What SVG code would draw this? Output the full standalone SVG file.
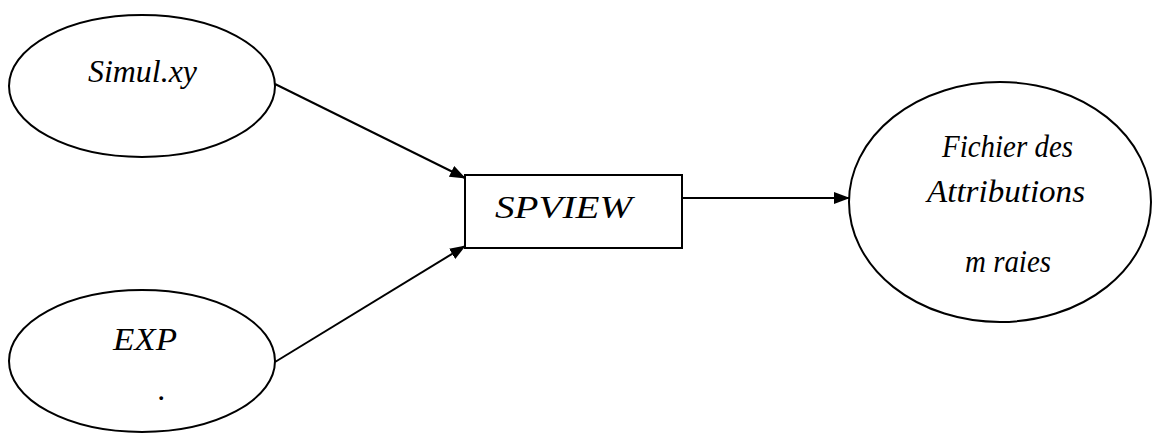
<svg xmlns="http://www.w3.org/2000/svg" width="1153" height="433" viewBox="0 0 1153 433">
<defs>
<marker id="ah" markerWidth="16" markerHeight="12" refX="15" refY="6" orient="auto" markerUnits="userSpaceOnUse">
<path d="M0,0 L16,6 L0,12 Z" fill="#000"/>
</marker>
</defs>
<rect width="1153" height="433" fill="#fff"/>
<g id="connectors" stroke="#000" stroke-width="2" fill="none">
<line x1="275" y1="84" x2="465" y2="178" marker-end="url(#ah)"/>
<line x1="275" y1="362" x2="465" y2="246" marker-end="url(#ah)"/>
<line x1="682" y1="198" x2="849" y2="198" marker-end="url(#ah)"/>
</g>
<g font-family="'Liberation Serif', 'DejaVu Serif', serif" font-style="italic" font-size="32" fill="#000">
<g id="simul">
<ellipse cx="142" cy="86" rx="133" ry="71" fill="#fff" stroke="#000" stroke-width="2"/>
<text x="88" y="82" textLength="109" lengthAdjust="spacingAndGlyphs">Simul.xy</text>
</g>
<g id="exp">
<ellipse cx="142" cy="361" rx="133" ry="71" fill="#fff" stroke="#000" stroke-width="2"/>
<text x="113" y="350" textLength="64" lengthAdjust="spacingAndGlyphs">EXP</text>
<text x="158" y="400">.</text>
</g>
<g id="spview">
<rect x="465" y="175" width="217" height="73" fill="#fff" stroke="#000" stroke-width="2"/>
<text x="495" y="218" textLength="137" lengthAdjust="spacingAndGlyphs">SPVIEW</text>
</g>
<g id="fichier">
<ellipse cx="1000" cy="202" rx="151" ry="120" fill="#fff" stroke="#000" stroke-width="2"/>
<text x="942" y="157" textLength="131" lengthAdjust="spacingAndGlyphs">Fichier des</text>
<text x="927" y="202" textLength="158" lengthAdjust="spacingAndGlyphs">Attributions</text>
<text x="965" y="272" textLength="86" lengthAdjust="spacingAndGlyphs">m raies</text>
</g>
</g>
</svg>
